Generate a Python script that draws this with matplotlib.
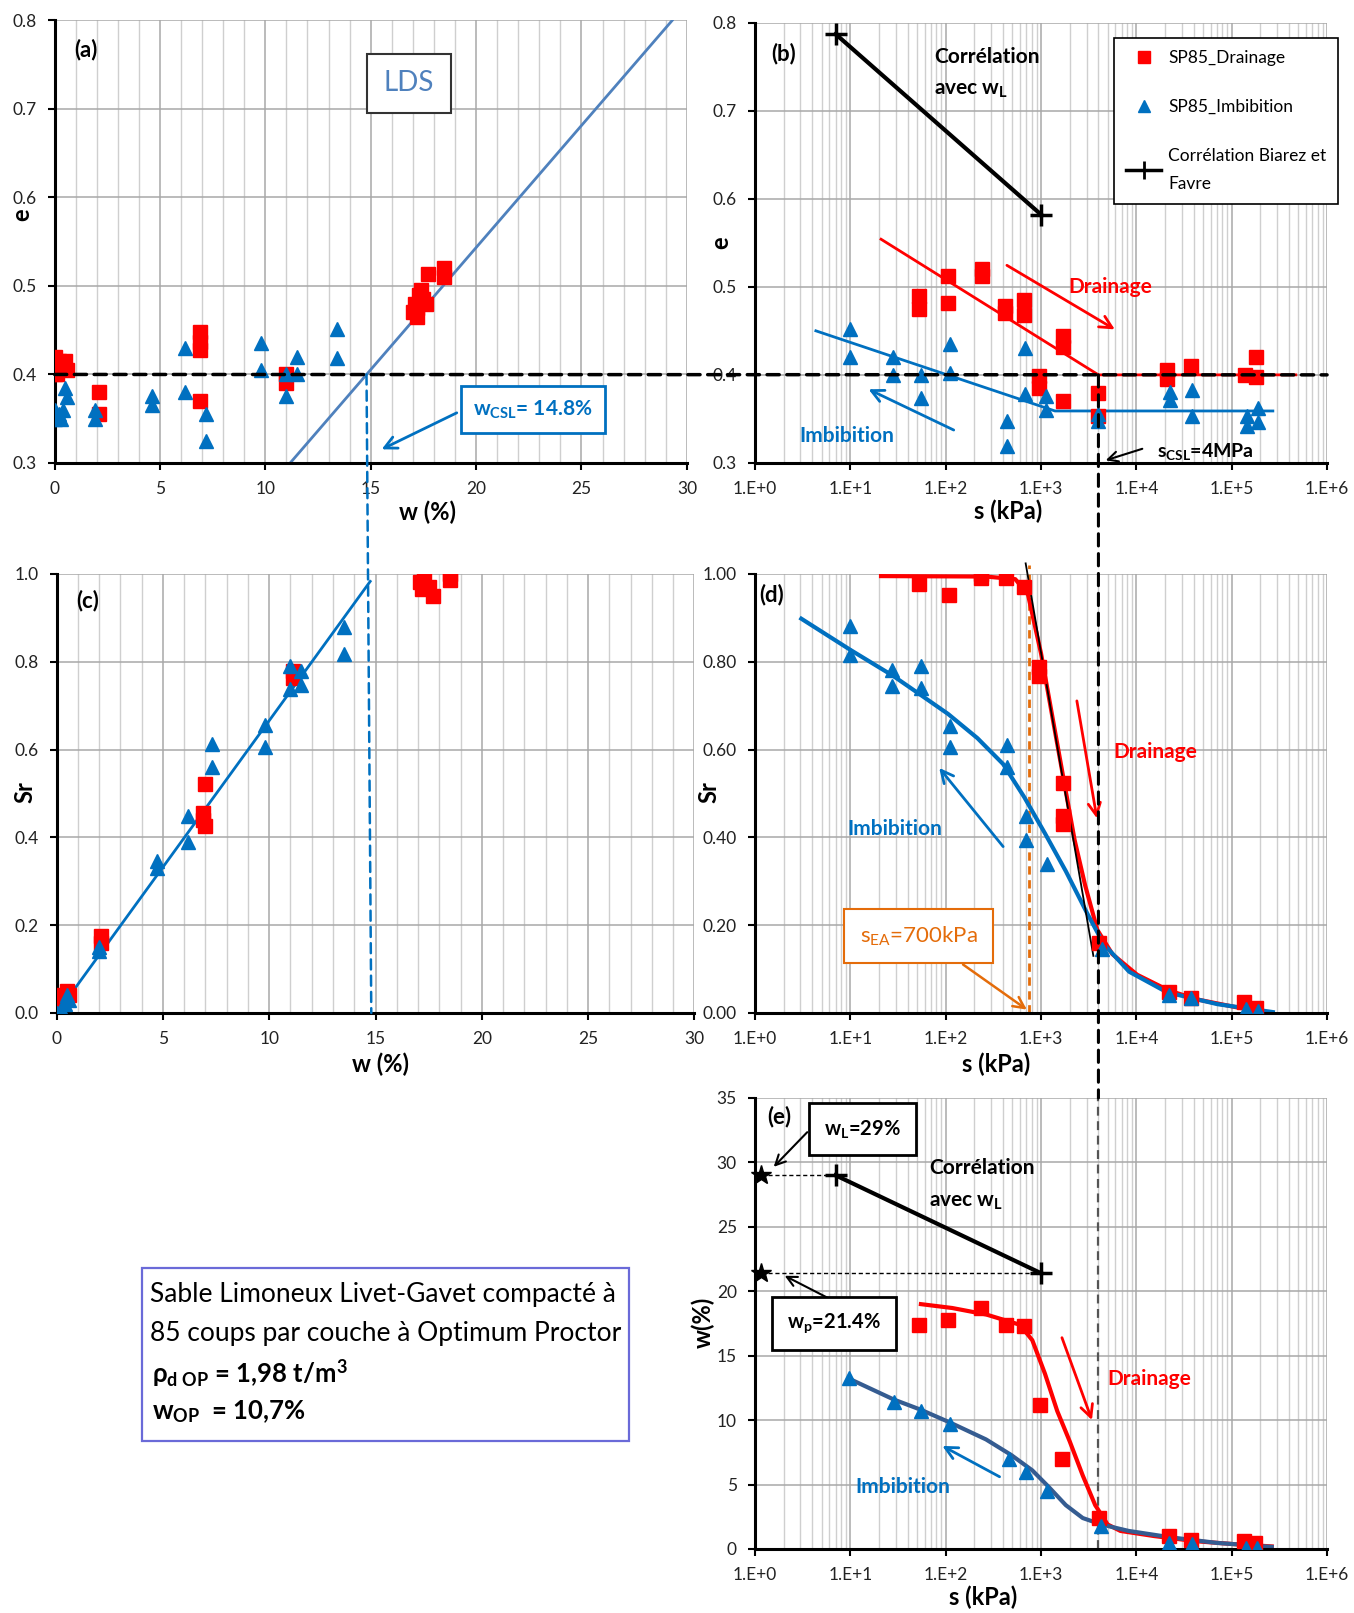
import numpy as np
import matplotlib
matplotlib.use('Agg')
import matplotlib.pyplot as plt
from matplotlib.ticker import MultipleLocator, LogLocator, FuncFormatter, NullFormatter, FormatStrFormatter
from matplotlib.patches import ConnectionPatch, Rectangle
from matplotlib.lines import Line2D

plt.rcParams['font.family'] = ['Lato', 'DejaVu Sans']
plt.rcParams['mathtext.fontset'] = 'custom'
plt.rcParams['mathtext.rm'] = 'Lato'
plt.rcParams['mathtext.it'] = 'Lato:italic'
plt.rcParams['mathtext.bf'] = 'Lato:bold'

RED = '#FF0000'
BLUE = '#0070C0'
LDSC = '#4F81BD'
DBLUE = '#355C91'
ORANGE = '#E46C0A'

# ---------------- data (a) e vs w ----------------
a_dr_w = [0.0, 0.1, 0.2, 0.3, 0.5, 0.6, 0.0, 2.1, 2.1, 6.9, 6.9, 6.9, 6.9, 11.0, 11.0,
          17.0, 17.1, 17.2, 17.3, 17.4, 17.5, 17.6, 17.2, 17.7, 18.5, 18.5]
a_dr_e = [0.42, 0.40, 0.415, 0.41, 0.415, 0.405, 0.40, 0.38, 0.355, 0.448, 0.437, 0.428, 0.37, 0.40, 0.39,
          0.47, 0.48, 0.475, 0.49, 0.495, 0.485, 0.48, 0.465, 0.513, 0.52, 0.51]
a_im_w = [0.0, 0.0, 0.2, 0.3, 0.4, 0.5, 0.6, 1.9, 1.9, 4.6, 4.6, 6.2, 6.2, 7.2, 7.2,
          9.8, 9.8, 11.0, 11.0, 11.5, 11.5, 13.4, 13.4]
a_im_e = [0.36, 0.35, 0.355, 0.35, 0.36, 0.385, 0.375, 0.36, 0.35, 0.376, 0.365, 0.43, 0.38, 0.355, 0.325,
          0.436, 0.405, 0.40, 0.376, 0.42, 0.40, 0.451, 0.419]
lds_w = [11.18, 29.3]
lds_e = [0.30, 0.80]
w_csl = 14.8
e_ref = 0.4

# ---------------- data (b) e vs s ----------------
b_dr_s = [52, 52, 105, 105, 240, 240, 420, 420, 660, 660, 950, 950, 1700, 1700, 1700, 4000, 4000,
          21000, 21000, 37000, 139000, 178000, 178000]
b_dr_e = [0.49, 0.475, 0.512, 0.482, 0.52, 0.512, 0.478, 0.47, 0.485, 0.468, 0.399, 0.385, 0.444, 0.432, 0.37,
          0.379, 0.353, 0.406, 0.395, 0.41, 0.40, 0.42, 0.398]
b_im_s = [10, 10, 28, 28, 55, 55, 110, 110, 435, 435, 683, 683, 1130, 1130, 4000, 4000,
          22400, 22400, 38000, 38000, 144000, 144000, 187000, 187000]
b_im_e = [0.452, 0.42, 0.42, 0.40, 0.40, 0.374, 0.435, 0.402, 0.348, 0.319, 0.431, 0.378, 0.376, 0.36,
          0.355, 0.348, 0.38, 0.372, 0.383, 0.353, 0.353, 0.342, 0.362, 0.347]
corr_s = [7, 1000]
corr_e = [0.787, 0.582]
b_dr_fit_s = [21, 4000, 470000]
b_dr_fit_e = [0.554, 0.40, 0.40]
b_im_fit_s = [4.35, 1400, 270000]
b_im_fit_e = [0.45, 0.359, 0.359]
s_csl = 4000

# ---------------- data (c) Sr vs w ----------------
c_dr_w = [0.0, 0.1, 0.2, 0.3, 0.5, 0.6, 2.1, 2.1, 7.0, 6.9, 6.9, 7.0, 11.1, 11.1,
          17.1, 17.2, 17.3, 17.5, 17.7, 18.5, 18.5]
c_dr_sr = [0.0, 0.02, 0.03, 0.04, 0.05, 0.04, 0.175, 0.16, 0.522, 0.455, 0.44, 0.425, 0.778, 0.762,
           0.982, 0.966, 0.99, 0.97, 0.95, 1.0, 0.986]
c_im_w = [0.0, 0.1, 0.2, 0.4, 0.6, 0.5, 2.0, 2.0, 4.7, 4.7, 6.2, 6.2, 7.3, 7.3, 9.8, 9.8,
          11.0, 11.0, 11.5, 11.5, 13.5, 13.5]
c_im_sr = [0.0, 0.0, 0.01, 0.02, 0.03, 0.04, 0.15, 0.14, 0.346, 0.33, 0.448, 0.39, 0.613, 0.56, 0.656, 0.605,
           0.79, 0.738, 0.778, 0.746, 0.88, 0.817]
c_fit_w = [0.25, 14.75]
c_fit_sr = [0.015, 0.983]

# ---------------- data (d) Sr vs s ----------------
d_dr_s = [52, 108, 234, 234, 430, 660, 955, 955, 1700, 1700, 1700, 4100, 22000, 37000, 134000, 178000]
d_dr_sr = [0.976, 0.953, 1.0, 0.99, 0.99, 0.97, 0.787, 0.768, 0.524, 0.449, 0.43, 0.16, 0.047, 0.035, 0.024, 0.012]
d_im_s = [10, 10, 27.6, 27.6, 55, 55, 110, 110, 440, 440, 690, 690, 1150, 4350, 22000, 37000, 140000, 190000]
d_im_sr = [0.882, 0.815, 0.78, 0.744, 0.79, 0.74, 0.653, 0.606, 0.61, 0.56, 0.449, 0.394, 0.339, 0.146,
           0.04, 0.035, 0.008, 0.004]
d_dr_curve_s = [21, 263, 537, 730, 1000, 1350, 1740, 2250, 2900, 3900, 5600, 10200, 22000, 43000, 118000, 252000]
d_dr_curve_sr = [0.995, 0.994, 0.988, 0.953, 0.819, 0.661, 0.528, 0.394, 0.291, 0.189, 0.134, 0.087, 0.051,
                 0.031, 0.012, 0.0]
d_im_curve_s = [3.06, 10, 28, 55, 106, 215, 400, 665, 1100, 1820, 3030, 4540, 8400, 21000, 71000, 270000]
d_im_curve_sr = [0.898, 0.827, 0.768, 0.724, 0.681, 0.626, 0.567, 0.492, 0.409, 0.323, 0.228, 0.157, 0.094,
                 0.047, 0.02, 0.002]
d_tan_s = [690, 3540]
d_tan_sr = [1.024, 0.13]
s_ea = 750

# ---------------- data (e) w vs s ----------------
e_dr_s = [52, 106, 234, 430, 660, 970, 1670, 4100, 22000, 37000, 135000, 175000]
e_dr_w = [17.4, 17.8, 18.7, 17.4, 17.3, 11.2, 7.0, 2.4, 1.0, 0.7, 0.6, 0.5]
e_im_s = [9.8, 28.5, 55, 112, 465, 690, 1150, 4300, 22000, 38000, 140000, 183000]
e_im_w = [13.3, 11.4, 10.7, 9.7, 7.0, 6.0, 4.5, 1.8, 0.5, 0.35, 0.1, 0.1]
e_dr_curve_s = [55, 117, 265, 600, 810, 1100, 1480, 2000, 2740, 3700, 5000, 6800, 15400, 42000, 117000, 263000]
e_dr_curve_w = [19.0, 18.7, 18.2, 17.4, 16.2, 13.6, 10.7, 8.35, 5.7, 3.4, 1.9, 1.4, 1.0, 0.6, 0.35, 0.2]
e_im_curve_s = [9.8, 28.5, 55, 112, 265, 485, 810, 1210, 1820, 2740, 4300, 8300, 23000, 70000, 263000]
e_im_curve_w = [13.2, 11.6, 10.8, 9.8, 8.5, 7.3, 6.1, 4.8, 3.4, 2.4, 1.9, 1.4, 0.9, 0.47, 0.16]
corr_w = [29.0, 21.4]
limits_s = [1.15, 1.15]
limits_w = [29.0, 21.4]

# ---------------- figure ----------------
fig = plt.figure(figsize=(13.54, 16.13), dpi=100)
ax_a = fig.add_axes([0.0403, 0.713, 0.467, 0.2743])
ax_b = fig.add_axes([0.5576, 0.713, 0.4225, 0.2730])
ax_c = fig.add_axes([0.0418, 0.372, 0.4711, 0.2722])
ax_d = fig.add_axes([0.5576, 0.372, 0.4225, 0.2722])
ax_e = fig.add_axes([0.5576, 0.0397, 0.4225, 0.2796])

TICKC = '#222222'


def style(ax, logx=False):
    for sp in ['top', 'right']:
        ax.spines[sp].set_visible(False)
    for sp in ['left', 'bottom']:
        ax.spines[sp].set_linewidth(2.2)
        ax.spines[sp].set_color('black')
    ax.tick_params(which='major', direction='out', length=5, width=1.5, labelsize=12.5, pad=8,
                   labelcolor=TICKC)
    ax.tick_params(which='minor', length=0)
    if logx:
        ax.set_xscale('log')
        ax.set_xlim(1, 1e6)
        ax.xaxis.set_major_locator(LogLocator(base=10, numticks=10))
        ax.xaxis.set_minor_locator(LogLocator(base=10, subs=np.arange(2, 10), numticks=20))
        ax.xaxis.set_major_formatter(FuncFormatter(lambda v, p: '1.E+%d' % int(round(np.log10(v)))))
        ax.xaxis.set_minor_formatter(NullFormatter())
    else:
        ax.set_xlim(0, 30)
        ax.xaxis.set_major_locator(MultipleLocator(5))
        ax.xaxis.set_minor_locator(MultipleLocator(1))
    ax.grid(True, which='major', color='#A8A8A8', lw=1.1)
    ax.grid(True, which='minor', axis='x', color='#CFCFCF', lw=1.0)
    ax.set_axisbelow(True)


for ax, lg in [(ax_a, False), (ax_b, True), (ax_c, False), (ax_d, True), (ax_e, True)]:
    style(ax, lg)

LBL = dict(fontsize=17, fontweight='bold')
MS = 10
PLBL = dict(fontsize=16, fontweight='bold', ha='center', va='center')

# ---------- (a) ----------
ax_a.set_ylim(0.3, 0.8)
ax_a.yaxis.set_major_locator(MultipleLocator(0.1))
ax_a.yaxis.set_major_formatter(FormatStrFormatter('%.1f'))
ax_a.plot(lds_w, lds_e, color=LDSC, lw=2, zorder=2)
ax_a.plot(a_dr_w, a_dr_e, 's', color=RED, ms=MS, ls='none', zorder=3)
ax_a.plot(a_im_w, a_im_e, '^', color=BLUE, ms=MS, ls='none', zorder=3)
ax_a.text(1.5, 0.767, '(a)', **PLBL)
ax_a.text(16.8, 0.729, 'LDS', color=LDSC, fontsize=20, ha='center', va='center',
          bbox=dict(boxstyle='square,pad=0.6', fc='white', ec='#333333', lw=1.5))
ax_a.text(22.7, 0.36, r'$\mathbf{w_{CSL}}$= 14.8%', color=BLUE, fontsize=15, fontweight='bold',
          ha='center', va='center', bbox=dict(boxstyle='square,pad=0.6', fc='white', ec=BLUE, lw=2))
ax_a.annotate('', xy=(15.4, 0.314), xytext=(19.2, 0.358),
              arrowprops=dict(arrowstyle='->', color=BLUE, lw=2, mutation_scale=22))
ax_a.set_ylabel('e', **LBL)
ax_a.yaxis.set_label_coords(-0.034, 0.56)
ax_a.set_xlabel('w (%)', **LBL)
ax_a.xaxis.set_label_coords(0.589, -0.084)

# ---------- (b) ----------
ax_b.set_ylim(0.3, 0.8)
ax_b.yaxis.set_major_locator(MultipleLocator(0.1))
ax_b.yaxis.set_major_formatter(FormatStrFormatter('%.1f'))
ax_b.plot(corr_s, corr_e, color='black', lw=3, marker='+', ms=16, mew=2.5, zorder=3)
ax_b.plot(b_dr_fit_s, b_dr_fit_e, color=RED, lw=2, zorder=2)
ax_b.plot(b_im_fit_s, b_im_fit_e, color=BLUE, lw=2, zorder=2)
ax_b.plot(b_dr_s, b_dr_e, 's', color=RED, ms=MS, ls='none', zorder=3)
ax_b.plot(b_im_s, b_im_e, '^', color=BLUE, ms=MS, ls='none', zorder=3)
ax_b.text(2.0, 0.765, '(b)', **PLBL)
ax_b.text(75, 0.761, 'Corrélation', fontsize=15, fontweight='bold', ha='left', va='center')
ax_b.text(75, 0.723, r'avec w$_{\mathbf{L}}$', fontsize=15, fontweight='bold', ha='left', va='center')
ax_b.annotate('', xy=(6300, 0.45), xytext=(414, 0.526),
              arrowprops=dict(arrowstyle='->', color=RED, lw=2, mutation_scale=22))
ax_b.text(1920, 0.50, 'Drainage', color=RED, fontsize=15, fontweight='bold', ha='left', va='center')
ax_b.annotate('', xy=(14.6, 0.385), xytext=(129, 0.336),
              arrowprops=dict(arrowstyle='->', color=BLUE, lw=2, mutation_scale=22))
ax_b.text(2.9, 0.331, 'Imbibition', color=BLUE, fontsize=15, fontweight='bold', ha='left', va='center')
ax_b.annotate('', xy=(4470, 0.302), xytext=(12300, 0.317),
              arrowprops=dict(arrowstyle='->', color='black', lw=1.5, mutation_scale=18))
ax_b.text(16600, 0.313, r'$\mathbf{s_{CSL}}$=4MPa', fontsize=14, fontweight='bold', ha='left', va='center')
handles = [Line2D([], [], ls='none', marker='s', color=RED, ms=9),
           Line2D([], [], ls='none', marker='^', color=BLUE, ms=9),
           Line2D([], [], color='black', lw=2.5, marker='+', ms=13, mew=2)]
leg = ax_b.legend(handles, ['SP85_Drainage', 'SP85_Imbibition', 'Corrélation Biarez et\nFavre'],
                  loc='upper right', bbox_to_anchor=(1.035, 0.985), frameon=True, fancybox=False,
                  edgecolor='black', framealpha=1, fontsize=12.5, labelspacing=1.9, handlelength=2.0,
                  borderpad=0.7, handletextpad=0.4)
leg.get_frame().set_linewidth(1.2)
leg.get_texts()[2].set_linespacing(1.9)
ax_b.set_ylabel('e', **LBL)
ax_b.yaxis.set_label_coords(-0.040, 0.50)
ax_b.set_xlabel('s (kPa)', **LBL)
ax_b.xaxis.set_label_coords(0.442, -0.084)

# ---------- (c) ----------
ax_c.set_ylim(0, 1.0)
ax_c.yaxis.set_major_locator(MultipleLocator(0.2))
ax_c.yaxis.set_major_formatter(FormatStrFormatter('%.1f'))
ax_c.plot(c_fit_w, c_fit_sr, color=BLUE, lw=2, zorder=2)
ax_c.plot(c_dr_w, c_dr_sr, 's', color=RED, ms=MS, ls='none', zorder=3)
ax_c.plot(c_im_w, c_im_sr, '^', color=BLUE, ms=MS, ls='none', zorder=3)
ax_c.text(1.45, 0.94, '(c)', **PLBL)
ax_c.set_ylabel('Sr', **LBL)
ax_c.yaxis.set_label_coords(-0.032, 0.503)
ax_c.set_xlabel('w (%)', **LBL)
ax_c.xaxis.set_label_coords(0.508, -0.089)

# ---------- (d) ----------
ax_d.set_ylim(0, 1.0)
ax_d.yaxis.set_major_locator(MultipleLocator(0.2))
ax_d.yaxis.set_major_formatter(FormatStrFormatter('%.2f'))
ax_d.plot([s_ea, s_ea], [0, 1.02], color=ORANGE, ls=(0, (3, 2)), lw=2, clip_on=False, zorder=2)
ax_d.plot(d_dr_curve_s, d_dr_curve_sr, color=RED, lw=3, zorder=2)
ax_d.plot(d_im_curve_s, d_im_curve_sr, color=BLUE, lw=3, zorder=2)
ax_d.plot(d_tan_s, d_tan_sr, color='black', lw=1.3, clip_on=False, zorder=2)
ax_d.plot(d_dr_s, d_dr_sr, 's', color=RED, ms=MS, ls='none', zorder=3)
ax_d.plot(d_im_s, d_im_sr, '^', color=BLUE, ms=MS, ls='none', zorder=3)
ax_d.text(1.5, 0.953, '(d)', **PLBL)
ax_d.annotate('', xy=(3900, 0.437), xytext=(2350, 0.717),
              arrowprops=dict(arrowstyle='->', color=RED, lw=2, mutation_scale=22))
ax_d.text(5700, 0.595, 'Drainage', color=RED, fontsize=15, fontweight='bold', ha='left', va='center')
ax_d.annotate('', xy=(82, 0.563), xytext=(418, 0.374),
              arrowprops=dict(arrowstyle='->', color=BLUE, lw=2, mutation_scale=22))
ax_d.text(9.2, 0.419, 'Imbibition', color=BLUE, fontsize=15, fontweight='bold', ha='left', va='center')
ax_d.text(52, 0.175, r's$_{\mathrm{EA}}$=700kPa', color=ORANGE, fontsize=16, ha='center', va='center',
          bbox=dict(boxstyle='square,pad=0.7', fc='white', ec=ORANGE, lw=1.5), zorder=4)
ax_d.annotate('', xy=(s_ea, 0.004), xytext=(144, 0.114),
              arrowprops=dict(arrowstyle='->', color=ORANGE, lw=1.8, mutation_scale=20))
ax_d.set_ylabel('Sr', **LBL)
ax_d.yaxis.set_label_coords(-0.061, 0.503)
ax_d.set_xlabel('s (kPa)', **LBL)
ax_d.xaxis.set_label_coords(0.421, -0.089)

# ---------- (e) ----------
ax_e.set_ylim(0, 35)
ax_e.yaxis.set_major_locator(MultipleLocator(5))
ax_e.yaxis.set_major_formatter(FormatStrFormatter('%d'))
ax_e.axvline(s_csl, color='#555555', ls=(0, (4, 2.5)), lw=1.6, zorder=2)
ax_e.plot([limits_s[0], corr_s[0]], [limits_w[0], limits_w[0]], color='black', ls=(0, (3, 2)), lw=1, zorder=2)
ax_e.plot([limits_s[1], corr_s[1]], [limits_w[1], limits_w[1]], color='black', ls=(0, (3, 2)), lw=1, zorder=2)
ax_e.plot(corr_s, corr_w, color='black', lw=3, marker='+', ms=16, mew=2.5, zorder=3)
ax_e.plot(limits_s, limits_w, '*', color='black', ms=15, ls='none', clip_on=False, zorder=4)
ax_e.plot(e_dr_curve_s, e_dr_curve_w, color=RED, lw=3, zorder=2)
ax_e.plot(e_im_curve_s, e_im_curve_w, color=DBLUE, lw=3, zorder=2)
ax_e.plot(e_dr_s, e_dr_w, 's', color=RED, ms=MS, ls='none', zorder=3)
ax_e.plot(e_im_s, e_im_w, '^', color=BLUE, ms=MS, ls='none', zorder=3)
ax_e.text(1.8, 33.6, '(e)', **PLBL)
ax_e.text(13.3, 32.6, r'w$_{\mathbf{L}}$=29%', fontsize=14.5, fontweight='bold', ha='center', va='center',
          bbox=dict(boxstyle='square,pad=0.75', fc='white', ec='black', lw=2), zorder=5)
ax_e.annotate('', xy=(1.5, 29.5), xytext=(3.7, 32.5),
              arrowprops=dict(arrowstyle='->', color='black', lw=1.5, mutation_scale=18))
ax_e.text(6.8, 17.5, r'w$_{\mathbf{p}}$=21.4%', fontsize=14.5, fontweight='bold', ha='center', va='center',
          bbox=dict(boxstyle='square,pad=0.75', fc='white', ec='black', lw=2), zorder=5)
ax_e.annotate('', xy=(1.93, 21.3), xytext=(6.9, 19.2),
              arrowprops=dict(arrowstyle='->', color='black', lw=1.5, mutation_scale=18))
ax_e.text(67, 29.6, 'Corrélation', fontsize=15, fontweight='bold', ha='left', va='center')
ax_e.text(67, 26.9, r'avec w$_{\mathbf{L}}$', fontsize=15, fontweight='bold', ha='left', va='center')
ax_e.annotate('', xy=(3500, 9.8), xytext=(1620, 16.6),
              arrowprops=dict(arrowstyle='->', color=RED, lw=2, mutation_scale=22))
ax_e.text(4930, 13.2, 'Drainage', color=RED, fontsize=15, fontweight='bold', ha='left', va='center')
ax_e.annotate('', xy=(87, 8.1), xytext=(390, 5.5),
              arrowprops=dict(arrowstyle='->', color=BLUE, lw=2, mutation_scale=22))
ax_e.text(11.2, 4.8, 'Imbibition', color=BLUE, fontsize=15, fontweight='bold', ha='left', va='center')
ax_e.set_ylabel('w(%)', **LBL)
ax_e.yaxis.set_label_coords(-0.07, 0.503)
ax_e.set_xlabel('s (kPa)', **LBL)
ax_e.xaxis.set_label_coords(0.399, -0.08)

# ---------- connecting dashed lines ----------
con1 = ConnectionPatch(xyA=(0, e_ref), coordsA=ax_a.transData, xyB=(1e6, e_ref), coordsB=ax_b.transData,
                       color='black', lw=2.5, ls=(0, (3.5, 2.2)), zorder=5)
fig.add_artist(con1)
con2 = ConnectionPatch(xyA=(w_csl, e_ref), coordsA=ax_a.transData, xyB=(w_csl, 0), coordsB=ax_c.transData,
                       color=BLUE, lw=1.8, ls=(0, (4, 2.5)), zorder=5)
fig.add_artist(con2)
con3 = ConnectionPatch(xyA=(s_csl, e_ref), coordsA=ax_b.transData, xyB=(s_csl, 35), coordsB=ax_e.transData,
                       color='black', lw=2.2, ls=(0, (4, 2.5)), zorder=5)
fig.add_artist(con3)

# ---------- info box ----------
fig.add_artist(Rectangle((0.1049, 0.1066), 0.3597, 0.1073, transform=fig.transFigure,
                         fill=False, ec='#6A6AD8', lw=1.6))
fig.text(0.1110, 0.1977, 'Sable Limoneux Livet-Gavet compacté à', fontsize=19, va='center', ha='left')
fig.text(0.1110, 0.1730, '85 coups par couche à Optimum Proctor', fontsize=19, va='center', ha='left')
fig.text(0.1123, 0.1488, r'ρ$_{\mathbf{d\ OP}}$ = 1,98 t/m$^{\mathbf{3}}$', fontsize=18.5, fontweight='bold',
         va='center', ha='left')
fig.text(0.1123, 0.1246, r'w$_{\mathbf{OP}}$  = 10,7%', fontsize=18.5, fontweight='bold', va='center', ha='left')

fig.savefig('out.png', dpi=100, facecolor='white')
